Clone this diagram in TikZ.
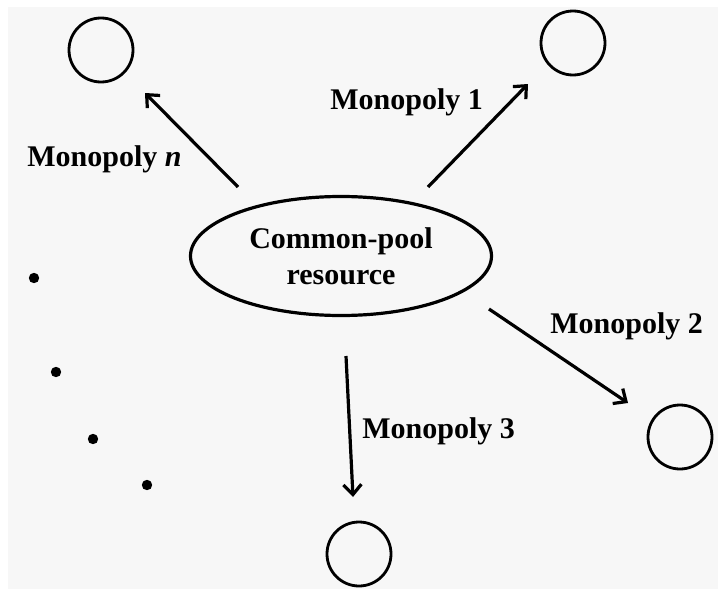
\documentclass[tikz,border=0pt]{standalone}
\usepackage{fontspec}
\setmainfont{Liberation Serif}
\usetikzlibrary{arrows.meta,shapes.geometric}
\definecolor{bggray}{HTML}{F7F7F7}
\begin{document}
\begin{tikzpicture}[x=0.5pt, y=-0.5pt, >={Straight Barb[length=5pt,width=9pt]},
    firm/.style={draw, circle, line width=1.4pt, minimum size=32pt, inner sep=0},
    pool/.style={draw, ellipse, line width=1.6pt, minimum width=150.5pt, minimum height=59.5pt, inner sep=0, align=center},
    lbl/.style={anchor=base west, inner sep=0},
    link/.style={->, line width=1.6pt},
    every node/.style={font=\fontsize{15}{18}\selectfont\bfseries}]
    {
    \useasboundingbox (0,0) rectangle (718,589);
    \fill[bggray] (8,7) rectangle (718,589);

    \node[pool] (cpr) at (341,256) {Common-pool\\resource};

    \node[firm] (fn) at (101,50) {};
    \node[firm] (f1) at (573,43) {};
    \node[firm] (f2) at (680,437) {};
    \node[firm] (f3) at (359,554) {};

    \coordinate (sn) at (238,187);  \coordinate (tn) at (145,93);
    \coordinate (s1) at (428,187);  \coordinate (t1) at (528,84);
    \coordinate (s2) at (489,309);  \coordinate (t2) at (628,403);
    \coordinate (s3) at (346,356);  \coordinate (t3) at (353,497);

    \draw[link] (sn) -- (tn);
    \draw[link] (s1) -- (t1);
    \draw[link] (s2) -- (t2);
    \draw[link] (s3) -- (t3);

    \node[lbl] (ln) at (27,166) {Monopoly \textit{n}};
    \node[lbl] (l1) at (330,109) {Monopoly 1};
    \node[lbl] (l2) at (550,333) {Monopoly 2};
    \node[lbl] (l3) at (362,438) {Monopoly 3};

    % dots between monopoly 3 and monopoly n
    \foreach \p in {(34,278), (56,372), (93,439), (147,485)}
        \fill \p circle (2.6pt);
    }
\end{tikzpicture}
\end{document}
